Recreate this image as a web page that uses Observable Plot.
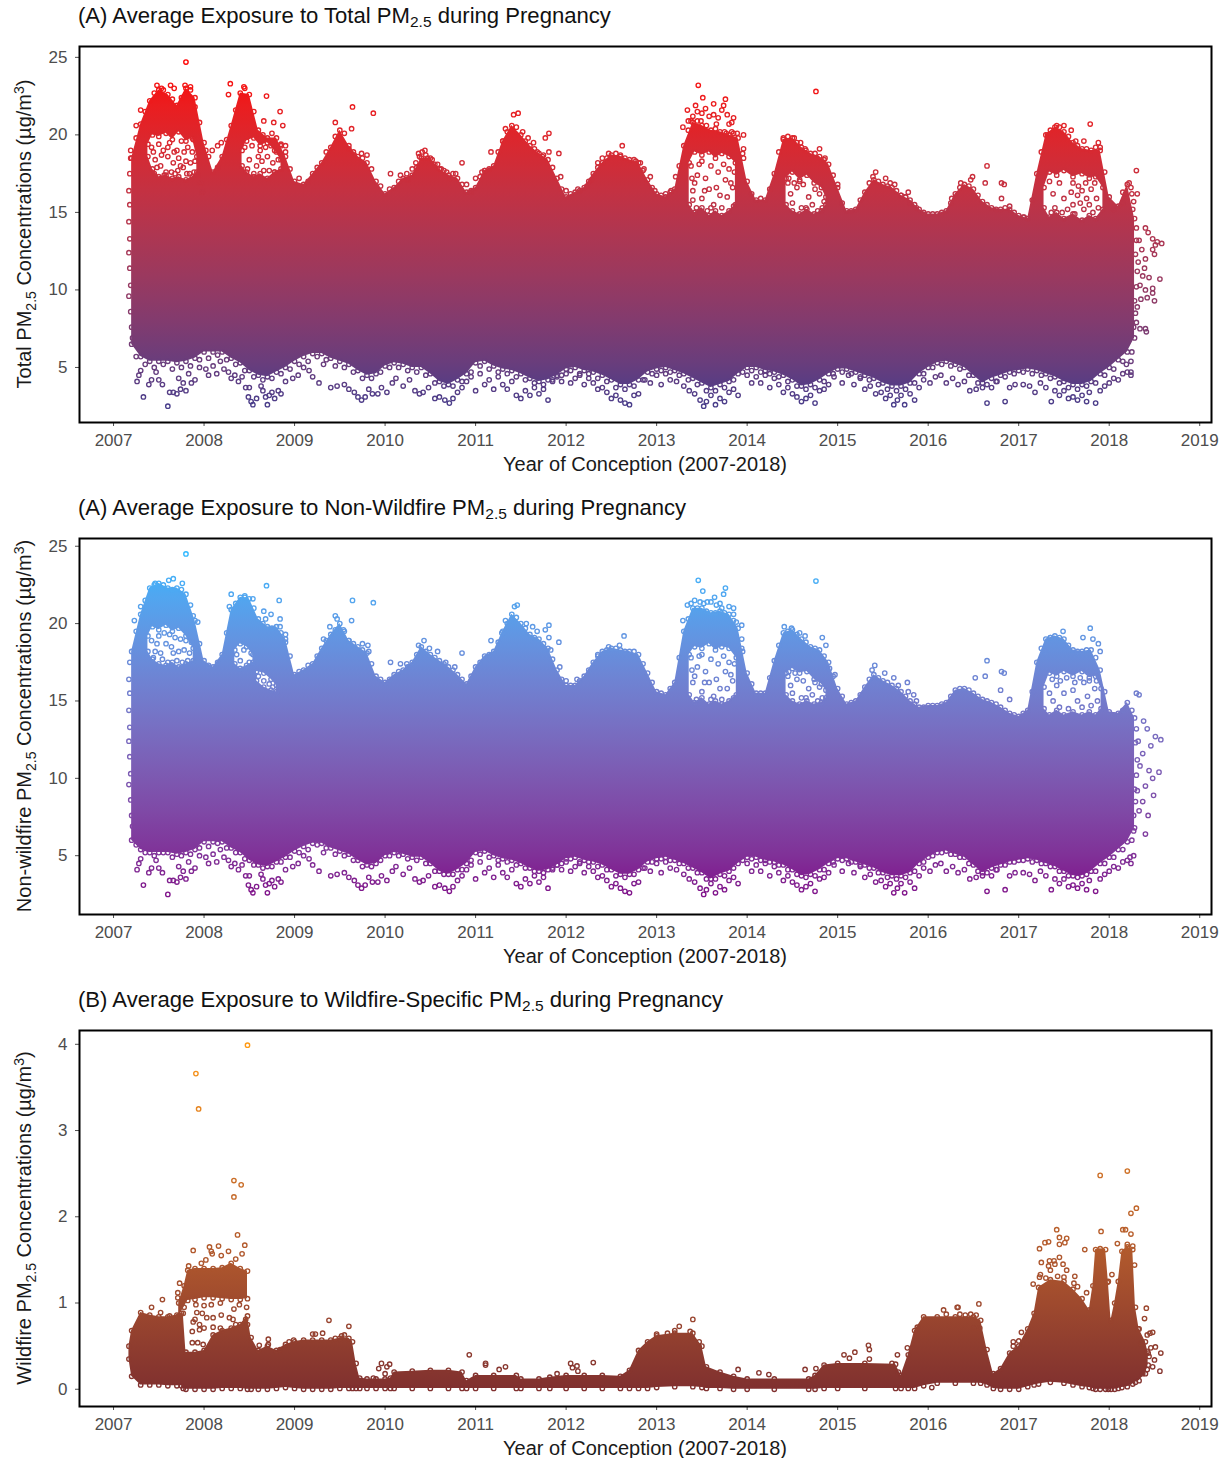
<!DOCTYPE html>
<html><head><meta charset="utf-8">
<script src="https://cdn.jsdelivr.net/npm/d3@7"></script>
<script src="https://cdn.jsdelivr.net/npm/@observablehq/plot@0.6"></script>
<style>
body{margin:0;background:#fff;font-family:"Liberation Sans",Arial,sans-serif;width:1228px}
.t{height:44px;box-sizing:border-box;padding:3px 0 0 78px;font-size:22.1px;color:#111;line-height:26px;white-space:nowrap}
.t sub{font-size:15.5px;line-height:0;vertical-align:-4px}
svg{display:block;overflow:visible}
</style></head><body><div id="root"></div>
<script>
const xTicks=[2007,2008,2009,2010,2011,2012,2013,2014,2015,2016,2017,2018,2019];
const yTicksA=[5,10,15,20,25];
const yTicksC=[0,1,2,3,4];
const xDomain=[2006.624,2019.13];

const yearsAB=[2007.2,2007.3,2007.4,2007.5,2007.6,2007.7,2007.8,2007.9,
2008,2008.1,2008.2,2008.3,2008.4,2008.5,2008.6,2008.7,2008.8,2008.9,
2009,2009.1,2009.2,2009.3,2009.4,2009.5,2009.6,2009.7,2009.8,2009.9,
2010,2010.1,2010.2,2010.3,2010.4,2010.5,2010.6,2010.7,2010.8,2010.9,
2011,2011.1,2011.2,2011.3,2011.4,2011.5,2011.6,2011.7,2011.8,2011.9,
2012,2012.1,2012.2,2012.3,2012.4,2012.5,2012.6,2012.7,2012.8,2012.9,
2013,2013.1,2013.2,2013.3,2013.4,2013.5,2013.6,2013.7,2013.8,2013.9,
2014,2014.1,2014.2,2014.3,2014.4,2014.5,2014.6,2014.7,2014.8,2014.9,
2015,2015.1,2015.2,2015.3,2015.4,2015.5,2015.6,2015.7,2015.8,2015.9,
2016,2016.1,2016.2,2016.3,2016.4,2016.5,2016.6,2016.7,2016.8,2016.9,
2017,2017.1,2017.2,2017.3,2017.4,2017.5,2017.6,2017.7,2017.8,2017.9,
2018,2018.1,2018.2,2018.28];

const totalHi=[18.5,20.7,22.2,22.9,22.6,21.9,23.0,22.4,
19.5,17.6,18.6,20.6,22.7,22.6,20.3,19.8,19.8,18.6,
17.0,16.8,17.5,18.2,19.2,20.3,19.3,18.6,18.2,17.0,
16.2,16.6,17.2,17.4,18.5,18.5,17.8,17.4,17.2,16.3,
16.6,17.7,18.0,19.6,20.6,20.0,19.3,18.8,18.4,17.2,
16.0,16.3,16.6,17.5,18.2,18.7,18.6,18.4,18.2,17.1,
16.2,16.0,16.5,19.3,20.8,20.6,20.3,20.2,20.0,19.8,
17.0,15.8,15.8,17.5,19.7,19.8,19.2,18.8,18.6,18.1,
16.6,15.1,15.2,16.3,17.1,16.8,16.6,16.1,15.8,15.2,
14.9,14.9,15.1,16.2,16.8,16.5,15.7,15.3,15.2,15.2,
14.8,14.6,17.5,20.0,20.5,20.2,19.5,19.1,19.0,19.0,
16.0,15.4,16.8,14.6];
const totalLo=[6.5,5.7,5.4,5.4,5.4,5.3,5.4,5.6,
6.0,6.0,6.0,5.6,5.3,4.8,4.5,4.4,4.7,5.0,
5.4,5.7,5.9,5.9,5.6,5.4,5.2,4.8,4.5,4.6,
5.1,5.3,5.2,5.0,5.0,4.6,4.1,3.9,4.2,4.6,
5.3,5.4,5.1,4.9,4.8,4.6,4.3,4.1,4.2,4.5,
4.9,5.0,4.8,4.7,4.5,4.2,3.9,3.9,4.2,4.7,
4.9,5.0,4.8,4.6,4.3,4.0,3.7,3.9,4.1,4.6,
5.0,5.0,4.8,4.7,4.5,4.2,3.8,3.9,4.2,4.6,
4.9,4.9,4.7,4.5,4.3,4.0,3.8,3.8,4.0,4.6,
5.0,5.3,5.4,5.2,5.0,4.5,4.0,4.3,4.5,4.7,
4.8,4.9,4.8,4.6,4.4,4.1,3.9,3.9,4.1,4.6,
5.0,5.5,6.0,6.9];
const nonHi=[18.2,20.6,22.3,22.6,22.3,22.3,21.9,20.2,
17.6,17.2,18.0,20.9,21.7,21.6,20.3,19.8,19.8,19.0,
16.7,17.0,17.4,18.4,19.3,20.0,18.9,18.5,18.1,16.6,
16.2,16.7,17.0,17.5,18.5,18.0,17.6,17.2,16.7,16.1,
17.2,17.9,18.2,19.5,20.6,20.0,19.3,19.0,18.4,17.0,
16.0,16.0,16.6,17.5,18.2,18.4,18.3,18.2,18.0,16.8,
15.6,15.4,16.2,19.5,21.0,21.0,20.7,20.8,20.6,19.7,
16.8,15.5,15.5,17.6,19.4,19.6,19.0,18.5,18.3,17.5,
15.8,14.8,15.0,15.9,16.7,16.3,16.0,15.6,15.0,14.6,
14.7,14.7,14.9,15.7,15.8,15.5,15.1,14.9,14.6,14.2,
14.0,14.4,17.5,19.0,19.2,19.0,18.3,18.2,18.3,17.0,
14.3,14.2,14.9,13.9];
const nonLo=[6.0,5.4,5.2,5.2,5.2,5.1,5.2,5.4,
5.9,5.9,5.9,5.5,5.2,4.7,4.4,4.3,4.6,4.9,
5.3,5.6,5.8,5.8,5.5,5.3,5.1,4.7,4.4,4.5,
5.0,5.2,5.1,4.9,4.9,4.5,4.0,3.8,4.1,4.5,
5.2,5.3,5.0,4.8,4.7,4.5,4.2,4.0,4.1,4.4,
4.8,4.9,4.7,4.6,4.4,4.1,3.8,3.8,4.1,4.6,
4.8,4.9,4.7,4.5,4.2,3.9,3.5,3.8,4.0,4.5,
4.9,4.9,4.7,4.6,4.4,4.1,3.7,3.8,4.1,4.5,
4.8,4.8,4.6,4.4,4.2,3.9,3.7,3.7,3.9,4.5,
4.9,5.2,5.3,5.1,4.9,4.4,3.9,4.2,4.4,4.6,
4.7,4.8,4.7,4.5,4.3,4.0,3.7,3.7,4.0,4.5,
4.9,5.4,5.9,6.8];

// gaps in the dense cloud: [year, lower edge, upper edge]
const totalGaps=[
[[2007.38,18.6,19.4],[2007.43,17.8,20.0],[2007.5,17.3,19.9],[2007.58,17.4,20.1],[2007.65,17.2,19.7],[2007.72,17.3,20.2],[2007.8,17.1,19.6],[2007.87,17.3,19.8],[2007.92,17.6,18.6]],
[[2008.42,18.0,19.0],[2008.47,17.6,19.6],[2008.55,17.3,19.8],[2008.62,17.5,19.3],[2008.7,17.2,19.5],[2008.78,17.6,19.0],[2008.85,17.8,18.4]],
[[2013.36,15.5,18.2],[2013.42,15.0,18.9],[2013.5,15.3,18.7],[2013.58,14.8,18.9],[2013.65,15.1,18.5],[2013.72,14.8,18.8],[2013.8,15.1,18.6],[2013.87,15.5,18.2]],
[[2014.43,15.5,17.2],[2014.5,15.1,17.6],[2014.58,14.9,17.1],[2014.66,15.2,17.4],[2014.74,14.9,16.9],[2014.82,15.1,16.6],[2014.87,15.5,16.0]],
[[2017.28,15.3,16.6],[2017.34,14.7,17.6],[2017.42,15.0,17.4],[2017.5,14.6,17.7],[2017.6,14.9,17.3],[2017.7,14.5,17.5],[2017.78,14.8,17.2],[2017.85,14.6,17.3],[2017.93,15.2,16.6]]];
const nonGaps=[
[[2007.38,18.2,19.2],[2007.43,17.7,19.8],[2007.5,17.4,19.6],[2007.58,17.3,19.9],[2007.65,17.5,19.5],[2007.72,17.2,19.7],[2007.8,17.4,19.2],[2007.88,17.6,18.4]],
[[2008.34,17.4,18.3],[2008.4,17.1,18.7],[2008.47,17.3,18.5],[2008.54,17.5,18.0]],
[[2008.58,16.3,16.9],[2008.66,15.9,16.8],[2008.74,15.7,16.4],[2008.8,15.6,16.0]],
[[2013.36,15.4,18.0],[2013.42,14.9,18.5],[2013.5,15.2,18.4],[2013.58,14.8,18.7],[2013.65,15.0,18.3],[2013.72,14.8,18.5],[2013.8,15.0,18.4],[2013.88,15.4,17.8]],
[[2014.43,15.4,16.8],[2014.5,15.0,17.1],[2014.58,14.8,16.8],[2014.66,15.0,16.9],[2014.74,14.8,16.4],[2014.82,14.9,16.1],[2014.87,15.2,15.7]],
[[2017.28,14.5,15.9],[2017.34,14.1,16.8],[2017.42,14.4,16.6],[2017.5,14.1,16.9],[2017.6,14.3,16.6],[2017.7,14.1,16.9],[2017.78,14.3,16.5],[2017.85,14.1,16.6],[2017.91,14.5,15.8]]];

// points along the ragged left and right sides of the cloud
const sideDots=[[2007.18,17.5],[2007.17,16.4],[2007.18,15.5],[2007.17,14.4],[2007.18,13.3],[2007.17,12.4],[2007.18,11.4],[2007.19,10.3],[2007.17,9.6],[2007.19,8.6],[2007.2,7.6],[2007.21,6.9],[2018.3,13.2],[2018.29,12.3],[2018.31,11.2],[2018.3,10.2],[2018.28,9.3],[2018.29,8.5],[2018.27,7.6]];

// points hugging the upper silhouette
const totalFringe=[[2007.25,19.8],[2007.35,21.5],[2007.45,22.7],[2007.55,22.9],[2007.65,22.3],[2007.75,22.4],[2007.85,22.9],[2007.95,20.8],[2008.05,18.6],[2008.15,17.9],[2008.25,19.7],[2008.35,21.6],[2008.45,23],[2008.55,21.5],[2008.65,20.0],[2008.75,20.1],[2008.85,19.4],[2008.95,17.8],[2009.05,17.2],[2009.15,17.0],[2009.25,17.9],[2009.35,18.9],[2009.45,19.9],[2009.55,20.1],[2009.65,18.9],[2009.75,18.5],[2009.85,17.8],[2009.95,16.7],[2010.05,16.5],[2010.15,17.0],[2010.25,17.1],[2010.35,17.9],[2010.45,18.7],[2010.55,18.1],[2010.65,17.7],[2010.75,17.5],[2010.85,16.8],[2010.95,16.4],[2011.05,17.3],[2011.15,17.8],[2011.25,18.9],[2011.35,20.2],[2011.45,20.5],[2011.55,19.6],[2011.65,19.1],[2011.75,18.7],[2011.85,17.9],[2011.95,16.5],[2012.05,16.2],[2012.15,16.4],[2012.25,17.0],[2012.35,17.9],[2012.45,18.5],[2012.55,18.8],[2012.65,18.5],[2012.75,18.4],[2012.85,17.7],[2012.95,16.6],[2013.05,16.1],[2013.15,16.3],[2013.25,18.0],[2013.35,20.3],[2013.45,20.9],[2013.55,20.6],[2013.65,20.4],[2013.75,20.2],[2013.85,20.1],[2013.95,18.8],[2014.05,16.2],[2014.15,15.9],[2014.25,16.5],[2014.35,18.9],[2014.45,19.9],[2014.55,19.5],[2014.65,19.0],[2014.75,18.8],[2014.85,18.4],[2014.95,17.4],[2015.05,15.6],[2015.15,15.1],[2015.25,15.8],[2015.35,16.9],[2015.45,17.0],[2015.55,16.7],[2015.65,16.4],[2015.75,16.0],[2015.85,15.5],[2015.95,15.0],[2016.05,14.9],[2016.15,15.0],[2016.25,15.6],[2016.35,16.6],[2016.45,16.7],[2016.55,16.1],[2016.65,15.5],[2016.75,15.2],[2016.85,15.3],[2016.95,15.0],[2017.05,14.7],[2017.15,15.8],[2017.25,18.9],[2017.35,20.3],[2017.45,20.5],[2017.55,19.9],[2017.65,19.3],[2017.75,19.1],[2017.85,19.2],[2017.95,17.6],[2018.05,15.2],[2018.15,15.6],[2018.25,16.2]];
const nonFringe=[[2007.25,19.5],[2007.35,21.5],[2007.45,22.5],[2007.55,22.5],[2007.65,22.2],[2007.75,22.2],[2007.85,21.2],[2007.95,18.7],[2008.05,17.3],[2008.15,17.5],[2008.25,19.4],[2008.35,21.3],[2008.45,21.8],[2008.55,21.0],[2008.65,20.0],[2008.75,19.7],[2008.85,19.4],[2008.95,17.9],[2009.05,16.9],[2009.15,17.3],[2009.25,17.9],[2009.35,18.9],[2009.45,19.6],[2009.55,19.5],[2009.65,18.7],[2009.75,18.3],[2009.85,17.4],[2009.95,16.4],[2010.05,16.4],[2010.15,16.9],[2010.25,17.2],[2010.35,18.0],[2010.45,18.2],[2010.55,17.8],[2010.65,17.4],[2010.75,17.0],[2010.85,16.4],[2010.95,16.6],[2011.05,17.5],[2011.15,18.0],[2011.25,18.8],[2011.35,20.0],[2011.45,20.4],[2011.55,19.7],[2011.65,19.1],[2011.75,18.7],[2011.85,17.7],[2011.95,16.4],[2012.05,16.0],[2012.15,16.3],[2012.25,17.0],[2012.35,17.9],[2012.45,18.3],[2012.55,18.4],[2012.65,18.2],[2012.75,18.2],[2012.85,17.4],[2012.95,16.2],[2013.05,15.5],[2013.15,15.8],[2013.25,17.8],[2013.35,20.3],[2013.45,21.0],[2013.55,20.8],[2013.65,20.7],[2013.75,20.7],[2013.85,20.2],[2013.95,18.2],[2014.05,16.1],[2014.15,15.5],[2014.25,16.5],[2014.35,18.6],[2014.45,19.5],[2014.55,19.3],[2014.65,18.8],[2014.75,18.4],[2014.85,17.9],[2014.95,16.6],[2015.05,15.3],[2015.15,14.9],[2015.25,15.4],[2015.35,16.4],[2015.45,16.5],[2015.55,16.2],[2015.65,15.8],[2015.75,15.3],[2015.85,14.8],[2015.95,14.6],[2016.05,14.7],[2016.15,14.8],[2016.25,15.3],[2016.35,15.8],[2016.45,15.7],[2016.55,15.3],[2016.65,15.0],[2016.75,14.8],[2016.85,14.4],[2016.95,14.1],[2017.05,14.2],[2017.15,15.6],[2017.25,18.4],[2017.35,19.1],[2017.45,19.1],[2017.55,18.6],[2017.65,18.2],[2017.75,18.3],[2017.85,17.8],[2017.95,15.6],[2018.05,14.1],[2018.15,14.4],[2018.25,14.4]];
// points hugging the lower silhouette
const floorFringe=[[2007.25,5.7],[2007.35,5.2],[2007.45,5.0],[2007.55,5.2],[2007.65,4.9],[2007.75,5.0],[2007.85,5.1],[2007.95,5.5],[2008.05,5.6],[2008.15,5.8],[2008.25,5.5],[2008.35,5.2],[2008.45,4.8],[2008.55,4.4],[2008.65,4.2],[2008.75,4.3],[2008.85,4.6],[2008.95,4.9],[2009.05,5.2],[2009.15,5.4],[2009.25,5.7],[2009.35,5.5],[2009.45,5.1],[2009.55,5.0],[2009.65,4.7],[2009.75,4.3],[2009.85,4.3],[2009.95,4.7],[2010.05,5.0],[2010.15,5.0],[2010.25,4.8],[2010.35,4.7],[2010.45,4.5],[2010.55,4.0],[2010.65,3.8],[2010.75,3.8],[2010.85,4.1],[2010.95,4.7],[2011.05,5.1],[2011.15,4.9],[2011.25,4.7],[2011.35,4.6],[2011.45,4.4],[2011.55,4.2],[2011.65,4.0],[2011.75,3.9],[2011.85,4.1],[2011.95,4.5],[2012.05,4.8],[2012.15,4.6],[2012.25,4.6],[2012.35,4.3],[2012.45,4.1],[2012.55,3.7],[2012.65,3.6],[2012.75,3.8],[2012.85,4.2],[2012.95,4.6],[2013.05,4.8],[2013.15,4.7],[2013.25,4.5],[2013.35,4.2],[2013.45,3.9],[2013.55,3.5],[2013.65,3.5],[2013.75,3.7],[2013.85,4.2],[2013.95,4.7],[2014.05,4.8],[2014.15,4.7],[2014.25,4.6],[2014.35,4.4],[2014.45,4.1],[2014.55,3.8],[2014.65,3.6],[2014.75,3.7],[2014.85,4.1],[2014.95,4.6],[2015.05,4.7],[2015.15,4.6],[2015.25,4.4],[2015.35,4.2],[2015.45,3.9],[2015.55,3.6],[2015.65,3.5],[2015.75,3.6],[2015.85,4.0],[2015.95,4.6],[2016.05,5.0],[2016.15,5.2],[2016.25,5.1],[2016.35,4.9],[2016.45,4.5],[2016.55,4.0],[2016.65,3.9],[2016.75,4.1],[2016.85,4.4],[2016.95,4.6],[2017.05,4.7],[2017.15,4.6],[2017.25,4.5],[2017.35,4.3],[2017.45,4.0],[2017.55,3.7],[2017.65,3.6],[2017.75,3.8],[2017.85,4.0],[2017.95,4.5],[2018.05,4.9],[2018.15,5.4],[2018.25,6.0]];

// lower fringe of separate points (very nearly the same in the total and non-wildfire panels)
const floorDots=[[2007.28,4.5],[2007.33,3.1],[2007.26,4.1],[2007.3,4.8],[2007.39,3.9],[2007.42,4.2],[2007.47,4.7],[2007.5,4.2],[2007.54,3.9],[2007.6,2.5],[2007.62,3.4],[2007.66,3.4],[2007.7,3.3],[2007.72,4.3],[2007.74,3.6],[2007.77,4.0],[2007.8,3.5],[2007.83,4.6],[2007.86,4.0],[2007.9,4.2],[2007.95,5.0],[2008.02,4.9],[2008.05,4.5],[2008.1,5.1],[2008.14,4.6],[2008.18,5.4],[2008.22,4.9],[2008.27,4.7],[2008.3,4.3],[2008.34,4.5],[2008.38,4.1],[2008.42,4.4],[2008.46,3.7],[2008.49,3.1],[2008.5,3.7],[2008.52,2.8],[2008.54,2.6],[2008.58,3.0],[2008.63,3.8],[2008.65,3.5],[2008.68,3.1],[2008.7,2.6],[2008.72,3.2],[2008.75,3.4],[2008.78,3.0],[2008.82,3.5],[2008.85,3.3],[2008.9,4.1],[2008.98,4.3],[2009.04,4.5],[2009.1,5.0],[2009.16,4.8],[2009.2,4.4],[2009.27,4.0],[2009.32,5.2],[2009.4,3.7],[2009.47,3.8],[2009.55,3.9],[2009.6,3.6],[2009.66,3.4],[2009.7,3.1],[2009.74,2.9],[2009.78,3.1],[2009.82,3.6],[2009.86,3.3],[2009.92,3.3],[2009.96,3.7],[2010.02,3.4],[2010.08,4.0],
[2010.12,4.3],[2010.2,3.8],[2010.27,4.2],[2010.33,3.5],[2010.38,3.3],[2010.42,3.4],[2010.48,3.7],[2010.55,3.0],[2010.6,3.1],[2010.66,2.9],[2010.71,2.7],[2010.75,3.0],[2010.8,3.4],[2010.85,3.7],[2010.9,4.1],[2010.95,4.4],[2011,3.5],[2011.05,4.6],[2011.1,3.9],[2011.15,4.2],[2011.2,3.6],[2011.25,4.4],[2011.3,3.9],[2011.35,3.6],[2011.4,4.1],[2011.45,3.2],[2011.5,3.0],[2011.55,3.5],[2011.6,3.2],[2011.65,3.7],[2011.7,3.3],[2011.75,3.6],[2011.8,2.9],[2011.85,4.2],[2011.9,4.4],[2011.95,4.1],
[2012,4.6],[2012.05,4.0],[2012.1,4.3],[2012.15,4.5],[2012.2,3.9],[2012.25,4.3],[2012.3,4.0],[2012.35,3.6],[2012.4,3.7],[2012.45,3.4],[2012.5,3.0],[2012.55,3.2],[2012.6,2.9],[2012.65,2.7],[2012.7,2.6],[2012.75,3.2],[2012.8,3.3],[2012.87,4.2],[2012.93,4.0],[2013,4.5],[2013.05,3.9],[2013.1,4.6],[2013.15,4.2],[2013.22,4.1],[2013.3,3.8],[2013.36,3.5],[2013.42,3.3],[2013.48,2.9],[2013.52,2.5],[2013.55,2.8],[2013.6,3.2],[2013.65,2.6],[2013.7,3.0],[2013.75,2.8],[2013.8,3.4],[2013.85,3.6],[2013.9,3.2],
[2014,4.5],[2014.05,4.0],[2014.1,4.4],[2014.15,4.0],[2014.2,4.5],[2014.25,3.7],[2014.3,4.3],[2014.35,3.9],[2014.4,3.4],[2014.45,3.7],[2014.5,3.3],[2014.55,3.1],[2014.6,2.8],[2014.65,3.0],[2014.7,3.2],[2014.75,2.7],[2014.8,3.5],[2014.85,3.6],[2014.9,3.9],[2014.96,4.4],[2015.05,4.0],[2015.12,4.5],[2015.18,3.9],[2015.25,4.3],[2015.3,3.6],[2015.36,3.8],[2015.42,3.3],[2015.48,3.4],[2015.53,3.0],[2015.58,3.2],[2015.62,2.6],[2015.66,2.9],[2015.7,3.2],[2015.74,2.6],[2015.8,3.3],[2015.85,2.9],[2015.9,3.7],[2015.95,4.2],
[2016.02,4.0],[2016.08,4.4],[2016.14,4.5],[2016.2,4.0],[2016.27,4.3],[2016.33,3.9],[2016.4,4.1],[2016.46,3.5],[2016.53,3.6],[2016.6,3.7],[2016.65,2.7],[2016.7,3.7],[2016.76,4.1],[2016.85,2.8],[2016.9,3.7],[2016.96,3.9],[2017.05,3.9],[2017.12,3.8],[2017.18,3.4],[2017.24,4.0],[2017.3,3.7],[2017.36,2.8],[2017.4,3.5],[2017.45,3.2],[2017.5,3.5],[2017.55,3.0],[2017.6,3.1],[2017.65,2.9],[2017.7,3.2],[2017.75,2.8],[2017.78,3.4],[2017.85,2.7],[2017.9,3.5],[2017.95,3.8],[2018,4.0],[2018.05,4.3],[2018.1,4.2],[2018.15,4.6],[2018.2,4.7],[2018.24,4.5]];

const totalDots=[[2007.8,24.7],[2008.69,22.5],[2008.84,21.5],[2009.64,21.8],[2009.63,20.4],[2009.87,21.4],[2009.45,20.8],[2009.6,19.1],[2009.66,18.7],[2009.8,18.7],[2009.74,18.8],[2010.06,17.5],[2010.17,17.4],[2010.24,17.5],[2010.37,18.8],[2008.66,20.9],[2008.77,20.8],[2008.87,20.6],[2008.9,19.3],[2008.9,18.9],[2008.09,19],[2008.15,19.3],[2008.19,19.5],[2008.02,19],[2008.29,23.3],[2008.44,23.1],[2008.27,22.6],[2007.19,19],[2007.19,18.5],[2007.25,20.6],[2007.3,21.6],[2007.48,23.2],[2007.63,23.2],[2007.67,23],[2007.53,23],[2007.79,23.2],[2007.85,23.1],[2007.9,21.8],
[2007.42,19.2],[2007.46,18.4],[2007.5,19.4],[2007.52,18.0],[2007.55,19.0],[2007.58,17.6],[2007.6,18.6],[2007.62,19.5],[2007.66,18.2],[2007.68,17.5],[2007.7,19.0],[2007.72,18.5],[2007.75,19.6],[2007.77,17.9],[2007.8,18.3],[2007.82,19.2],[2007.84,17.5],[2007.87,18.9],[2007.88,19.7],[2007.9,18.3],[2007.45,17.5],[2007.93,17.4],[2007.96,16.9],[2007.98,16.3],[2007.44,18.9],[2007.48,17.9],[2007.53,18.7],[2007.56,17.4],[2007.6,19.2],[2007.64,17.6],[2007.67,18.9],[2007.71,17.7],[2007.74,18.0],[2007.78,18.9],[2007.81,17.5],[2007.85,18.2],[2007.89,17.6],
[2008.45,19.2],[2008.5,18.4],[2008.53,19.3],[2008.58,18.0],[2008.62,19.0],[2008.66,17.7],[2008.7,18.6],[2008.74,19.3],[2008.78,17.6],[2008.82,18.4],[2008.85,19.3],[2008.48,17.8],[2008.55,17.5],[2008.6,18.6],[2008.64,18.3],[2008.68,19.2],[2008.72,17.7],[2008.76,18.2],[2008.8,18.9],
[2010.3,17.8],[2010.34,18.2],[2010.38,18.6],[2010.41,18.9],[2010.44,19.0],[2010.47,18.5],[2010.52,18.4],[2010.58,18.1],[2010.62,17.8],[2010.68,17.6],[2010.72,17.2],[2010.78,17.5],[2010.85,18.2],[2010.9,16.8],[2010.95,16.3],[2011,17.2],[2011.07,17.6],[2011.17,18.9],[2011.1,17.7],[2011.33,20.4],[2011.3,19.6],[2011.42,21.3],[2011.47,21.4],[2011.52,20.2],[2011.58,19.8],[2011.64,19.5],[2011.77,19.8],[2011.81,20.1],[2011.81,18.9],[2011.92,18.8],[2011.68,18.9],[2011.74,18.6],[2011.94,17.3],[2012,16.4],[2012.13,16.5],[2012.23,16.7],[2012.28,17.1],[2012.35,18.2],[2012.4,18.5],[2012.47,18.8],[2012.6,18.7],[2012.62,19.3],[2012.77,18.3],[2012.82,18.2],[2012.86,17.8],[2012.93,17.3],[2012.98,16.4],[2013.1,16.2],[2013.16,16.4],[2013.21,17.3],
[2013.29,20.5],[2013.34,21.6],[2013.43,21.9],[2013.46,23.2],[2013.51,22.4],[2013.63,22.0],[2013.74,21.9],[2013.76,22.3],[2013.85,21.1],[2013.83,20.8],[2013.96,20],[2013.78,21.3],[2013.72,21.6],[2013.63,21.3],[2013.54,21.7],[2013.5,21.4],[2013.38,20.9],[2013.66,20.7],[2013.49,20.9],[2013.77,20.1],[2013.89,20.1],[2013.83,20.2],[2013.96,19.1],[2013.96,18.5],[2013.4,21.2],[2013.45,21.5],[2013.58,21.2],[2013.68,21.1],[2013.8,20.7],[2013.35,20.9],
[2013.38,18.0],[2013.42,16.9],[2013.45,17.4],[2013.5,15.9],[2013.5,18.3],[2013.54,17.2],[2013.58,16.5],[2013.6,18.0],[2013.63,15.5],[2013.66,16.6],[2013.68,17.6],[2013.7,16.1],[2013.72,15.3],[2013.76,17.1],[2013.78,16.0],[2013.8,17.8],[2013.84,16.6],[2013.85,15.4],[2013.4,15.8],[2013.44,15.3],[2013.56,15.1],[2013.39,17.2],[2013.47,18.1],[2013.53,16.4],[2013.6,15.3],[2013.74,18.1],[2013.82,16.9],[2013.86,17.6],[2013.4,16.4],
[2014.4,19.8],[2014.52,19.8],[2014.59,19.5],[2014.64,19.1],[2014.8,19.1],[2014.86,18.5],[2015,16.8],[2014.76,22.8],
[2014.45,16.9],[2014.48,16.2],[2014.5,15.6],[2014.55,16.6],[2014.6,15.3],[2014.62,16.8],[2014.68,16.0],[2014.72,15.5],[2014.78,15.1],[2014.8,16.2],[2014.85,15.7],[2014.46,17.2],[2014.52,16.9],[2014.58,17.0],[2014.65,15.3],[2014.75,16.5],[2014.83,15.3],
[2015.42,17.6],[2015.39,17.3],[2015.53,17.2],[2015.58,16.9],[2015.63,16.8],[2015.78,16.3],[2015.7,16.1],[2015.75,16],[2015.8,15.6],[2015.87,15.3],[2016.36,16.9],[2016.47,17.1],[2016.49,17.3],[2016.65,18],[2016.63,16.9],[2016.81,16.9],[2016.84,16.8],[2016.81,15.9],[2016.9,15.4],[2017.06,14.7],[2016.26,15.9],
[2017.32,20],[2017.42,20.6],[2017.5,20.6],[2017.58,20.3],[2017.63,19.6],[2017.72,19.6],[2017.79,20.7],[2017.88,19.5],[2017.9,19.2],
[2017.34,17.0],[2017.38,16.2],[2017.4,15.3],[2017.45,16.9],[2017.5,15.9],[2017.54,15.2],[2017.58,16.3],[2017.6,15.5],[2017.62,14.9],[2017.65,16.1],[2017.68,15.6],[2017.7,16.4],[2017.72,15.2],[2017.75,15.9],[2017.78,15.5],[2017.8,16.5],[2017.82,15.0],[2017.86,15.9],[2017.88,15.3],[2017.6,16.9],[2017.66,16.7],[2017.74,16.9],[2017.84,16.9],[2017.48,15.0],[2017.36,15.0],
[2018.3,17.7],[2018.24,16.6],[2018.31,16.2],[2018.18,16.2],[2018.3,14.0],[2018.4,14],[2018.43,13.7],[2018.48,13.3],[2018.53,13.1],[2018.58,13],[2018.51,12.9],[2018.48,12.6],[2018.5,12.3],[2018.4,12],[2018.44,10.8],[2018.39,11.4],[2018.37,10.9],[2018.56,10.7],[2018.4,10],[2018.48,10.1],[2018.48,9.8],[2018.42,9.5],[2018.35,9.4],[2018.5,9.3],[2018.4,7.5],[2018.41,7.3],[2018.34,7.5],[2018.3,7.9],[2018.24,4.7],[2018.24,5.4],[2018.19,5.2],[2018.33,13.2],[2018.36,12.6],[2018.32,11.8],[2018.34,10.3],[2018.31,8.9],[2018.27,15.7],[2018.22,16.9],[2018.26,15.2],[2018.15,16.3]];

const nonDots=[[2007.8,24.5],[2008.69,22.45],[2008.83,21.5],[2009.64,21.5],[2009.87,21.35],[2009.63,20.2],[2007.61,22.8],[2007.66,22.9],[2007.76,22.6],[2007.46,22.6],[2007.23,20.2],[2007.3,21.1],[2007.93,20.1],[2007.88,20.5],[2008.3,21.9],[2008.28,21.1],[2008.45,21.7],[2008.54,21.6],[2008.66,20.8],[2008.68,20.3],[2008.74,20.6],[2008.84,20.3],[2008.84,19.8],[2008.9,19.3],[2008.9,18.8],
[2009.45,20.5],[2009.47,20.3],[2009.39,19.8],[2009.32,19],[2009.54,19.6],[2009.6,18.9],[2009.75,18.7],[2009.81,18.6],[2009.82,18.2],[2010.06,17.5],[2010.17,17.4],[2010.24,17.4],[2010.43,18.9],[2010.37,18.6],[2010.49,18.4],[2010.58,18.2],[2010.85,18.1],[2010.67,17.5],[2010.77,17.2],[2011.17,18.9],[2011.46,21.2],[2011.43,21.1],[2011.33,20.2],[2011.29,19.4],[2011.56,20],[2011.63,19.8],[2011.68,19.5],[2011.81,19.9],[2011.77,19.6],[2011.81,19.1],[2011.92,18.8],[2011.83,18.3],[2011.93,17.2],[2012,16.3],[2012.12,16.4],[2012.35,18],[2012.47,18.5],[2012.59,18.6],[2012.64,19.2],
[2013.46,22.8],[2013.51,22.1],[2013.76,22.3],[2013.74,21.9],[2013.64,21.7],[2013.42,21.5],[2013.34,21.2],[2013.56,21.4],[2013.7,21.3],[2013.85,21],[2013.85,20.6],[2013.29,20.2],[2013.94,19.9],[2013.88,20.1],[2013.94,19],[2013.94,18.4],[2013.38,21.3],[2013.48,21.4],[2013.52,21.3],[2013.6,21.4],[2013.66,21.2],[2013.8,21.1],[2013.72,21.0],
[2014.76,22.75],[2014.41,19.8],[2014.49,19.7],[2014.58,19.4],[2014.64,19.2],[2014.83,19.1],[2014.87,18.6],[2014.91,17.1],[2014.97,16.7],[2015.41,17.3],[2015.38,17],[2015.52,16.8],[2015.62,16.5],[2015.77,16.2],[2015.67,16],[2015.78,15.6],[2015.84,15.4],[2015.87,15],[2016.65,17.6],[2016.63,16.6],[2016.81,16.9],[2016.84,16.8],[2016.8,15.7],[2016.52,16.5],[2016.9,15.1],
[2017.49,19.5],[2017.35,19.1],[2017.79,19.7],[2017.71,19.1],[2017.82,19],[2017.88,18.7],[2017.29,18.2],[2017.9,18.2],
[2007.42,18.9],[2007.46,18.2],[2007.5,19.2],[2007.54,17.7],[2007.58,18.7],[2007.62,19.3],[2007.66,18.1],[2007.7,17.6],[2007.74,19.0],[2007.78,18.3],[2007.82,17.6],[2007.86,18.8],[2007.44,17.8],[2007.48,18.7],[2007.52,18.1],[2007.56,19.4],[2007.6,17.5],[2007.64,18.5],[2007.68,19.1],[2007.72,18.2],[2007.76,17.5],[2007.8,18.9],[2007.84,18.1],
[2008.36,18.0],[2008.4,17.6],[2008.44,18.3],[2008.5,17.5],[2008.52,18.1],[2008.6,16.6],[2008.66,16.3],[2008.72,16.1],[2008.76,15.9],
[2013.38,17.8],[2013.42,16.6],[2013.45,17.2],[2013.5,15.6],[2013.5,18.0],[2013.54,16.9],[2013.58,16.2],[2013.6,17.7],[2013.63,15.3],[2013.66,16.4],[2013.68,17.4],[2013.7,15.8],[2013.72,15.1],[2013.76,16.9],[2013.78,15.8],[2013.8,17.5],[2013.84,16.3],[2013.85,15.2],[2013.44,15.1],[2013.39,17.0],[2013.47,17.9],[2013.53,16.2],[2013.6,15.1],[2013.74,17.9],[2013.82,16.7],[2013.86,17.4],[2013.4,16.2],
[2014.45,16.6],[2014.48,16.0],[2014.5,15.5],[2014.55,16.4],[2014.6,15.2],[2014.62,16.3],[2014.68,15.8],[2014.72,15.4],[2014.78,15.0],[2014.8,15.9],[2014.46,16.9],[2014.53,16.8],[2014.65,15.2],[2014.75,16.2],[2014.83,15.2],
[2017.34,15.5],[2017.38,15.0],[2017.42,16.0],[2017.45,14.6],[2017.5,15.5],[2017.55,14.5],[2017.6,15.7],[2017.65,15.0],[2017.7,14.6],[2017.72,16.2],[2017.76,15.3],[2017.8,14.7],[2017.84,15.8],[2017.87,15.0],[2017.37,16.4],[2017.46,16.3],[2017.53,16.5],[2017.62,16.2],[2017.68,16.5],[2017.78,16.3],[2017.86,16.3],
[2018.3,15.5],[2018.33,15.4],[2018.57,12.5],[2018.51,12.7],[2018.42,13.2],[2018.38,13.7],[2018.46,12.1],[2018.37,11.6],[2018.55,10.4],[2018.44,10.5],[2018.48,10],[2018.4,9.5],[2018.49,8.9],[2018.43,7.6],[2018.4,6.4],[2018.37,8.5],[2018.27,6.6],[2018.32,12.4],[2018.34,10.8],[2018.31,9.2],[2018.33,7.9],[2018.27,5.0],[2018.23,4.9]];

// wildfire panel
const yearsC=[2007.17,2007.2,2007.3,2007.4,2007.5,2007.6,2007.7,2007.75,2007.77,2007.8,
2007.9,2008,2008.1,2008.2,2008.3,2008.4,2008.48,2008.52,2008.6,2008.7,
2008.8,2008.9,2009,2009.1,2009.2,2009.3,2009.4,2009.5,2009.6,2009.64,
2009.68,2009.72,2009.8,2009.9,2010,2010.06,2010.1,2010.3,2010.5,2010.7,
2010.85,2010.9,2011,2011.2,2011.45,2011.5,2011.7,2011.82,2012,2012.2,
2012.4,2012.6,2012.7,2012.8,2012.9,2013,2013.2,2013.4,2013.5,2013.55,
2013.7,2013.85,2014,2014.3,2014.68,2014.75,2014.85,2015,2015.3,2015.64,
2015.7,2015.78,2015.85,2015.95,2016.1,2016.3,2016.5,2016.58,2016.65,2016.72,
2016.8,2016.9,2017,2017.1,2017.17,2017.22,2017.35,2017.5,2017.6,2017.7,
2017.78,2017.82,2017.85,2017.9,2017.96,2017.99,2018.02,2018.06,2018.1,2018.14,
2018.2,2018.26,2018.29,2018.33,2018.4,2018.43];
const wildHi=[0.50,0.68,0.89,0.86,0.84,0.84,0.86,0.88,0.88,0.43,
0.43,0.45,0.63,0.68,0.71,0.75,0.85,0.60,0.45,0.50,
0.45,0.52,0.55,0.57,0.57,0.57,0.57,0.59,0.59,0.55,
0.30,0.13,0.12,0.12,0.12,0.13,0.20,0.21,0.22,0.22,
0.20,0.10,0.16,0.16,0.16,0.12,0.12,0.14,0.16,0.16,
0.16,0.15,0.22,0.45,0.55,0.62,0.65,0.65,0.50,0.26,
0.20,0.15,0.12,0.12,0.12,0.16,0.28,0.30,0.30,0.29,
0.16,0.40,0.68,0.84,0.84,0.84,0.84,0.80,0.46,0.18,
0.24,0.42,0.50,0.70,0.88,1.18,1.27,1.25,1.16,1.05,
0.92,1.20,1.62,1.63,1.62,1.25,0.80,1.00,1.25,1.60,
1.65,1.62,0.95,0.70,0.55,0.42];
const wildLo=[0.35,0.15,0.05,0.05,0.05,0.04,0.04,0.04,0.01,0.0,
0.0,0.0,0.0,0.01,0.01,0.01,0.0,0.0,0.0,0.0,
0.01,0.02,0.01,0.0,0.0,0.0,0.0,0.01,0.01,0.01,
0.01,0.01,0.01,0.01,0.01,0.01,0.01,0.01,0.01,0.01,
0.01,0.01,0.01,0.01,0.01,0.01,0.01,0.01,0.01,0.01,
0.01,0.01,0.01,0.01,0.01,0.02,0.03,0.03,0.02,0.01,
0.01,0.0,0.0,0.0,0.0,0.0,0.01,0.01,0.01,0.01,
0.01,0.01,0.01,0.04,0.07,0.07,0.07,0.07,0.05,0.01,
0.0,0.0,0.0,0.03,0.05,0.06,0.08,0.07,0.05,0.03,
0.02,0.01,0.0,0.0,0.0,0.0,0.0,0.0,0.01,0.02,
0.03,0.06,0.08,0.10,0.18,0.28];
const bandYears=[2007.72,2007.78,2007.82,2007.9,2008,2008.1,2008.2,2008.3,2008.4,2008.48];
const bandHi=[1.0,1.2,1.38,1.4,1.4,1.4,1.41,1.46,1.4,1.37];
const bandLo=[0.85,0.95,1.03,1.04,1.06,1.06,1.05,1.04,1.04,1.05];
const wildDots=[[2008.48,3.99],[2007.91,3.66],[2007.94,3.25],[2008.33,2.42],[2008.41,2.37],[2008.33,2.23],[2008.37,1.79],[2008.45,1.67],[2007.88,1.61],[2008.06,1.65],[2008.16,1.66],[2008.08,1.6],[2008.09,1.57],[2008.19,1.55],[2008.27,1.6],[2008.42,1.57],[2008.02,1.5],[2007.97,1.46],[2007.83,1.43],[2008.35,1.51],[2007.73,1.23],[2007.71,1.12],[2007.71,1.06],[2007.54,1.04],[2007.42,0.95],[2007.52,0.89],[2007.62,0.85],
[2007.91,0.98],[2008,0.97],[2008.08,0.98],[2008.18,1],[2008.39,0.98],[2008.47,0.95],[2008.33,0.93],[2007.98,0.88],[2007.92,0.89],[2008.19,0.86],[2007.9,0.81],[2007.88,0.78],[2007.95,0.75],[2008.03,0.83],[2008.1,0.83],[2008.28,0.83],[2008.32,0.81],[2008.46,0.81],[2008.35,0.75],[2008.48,0.75],[2007.87,0.67],[2007.95,0.69],[2008,0.71],[2008.1,0.72],[2008.18,0.71],[2007.87,0.54],[2007.93,0.54],[2007.99,0.52],
[2008.61,0.51],[2008.71,0.58],[2008.71,0.52],[2008.84,0.46],[2008.94,0.55],[2008.99,0.57],[2009.2,0.64],[2009.23,0.64],[2009.31,0.65],[2009.38,0.8],[2009.6,0.73],[2009.55,0.63],[2009.52,0.62],[2009.45,0.59],[2009.96,0.3],[2009.93,0.24],[2010.05,0.29],[2010.02,0.26],[2010,0.18],[2009.87,0.13],
[2010.93,0.4],[2011.11,0.3],[2011.11,0.28],[2011.33,0.26],[2011.26,0.23],[2012.05,0.3],[2012.3,0.31],[2012.12,0.27],[2012.07,0.25],[2012.13,0.21],[2011.9,0.18],[2013.25,0.73],[2013.4,0.81],[2013.37,0.67],[2013.2,0.68],[2013.39,0.6],[2013.47,0.55],[2013.47,0.49],[2013,0.64],[2013.12,0.65],
[2013.9,0.23],[2014.13,0.19],[2014.24,0.17],[2014.64,0.23],[2014.76,0.24],[2015.07,0.4],[2015.19,0.43],[2015.34,0.51],[2015.35,0.46],[2015.66,0.4],[2015.13,0.36],[2015.35,0.35],[2015.6,0.3],[2015.67,0.2],[2015.77,0.48],[2015.88,0.72],[2016.17,0.92],[2016.32,0.95],[2016.56,0.99],[2016.2,0.87],[2016.35,0.87],[2016.47,0.87],[2016.5,0.71],[2016.04,0.02],
[2016.33,0.95],[2016.53,0.86],[2016.41,0.86],[2016.57,0.71],[2017.03,0.66],[2017,0.56],[2016.94,0.55],[2016.94,0.5],
[2017.9,2.48],[2018.2,2.53],[2018.3,2.1],[2018.24,2.04],[2017.91,1.83],[2018.15,1.85],[2018.18,1.85],[2018.24,1.8],[2017.42,1.85],[2017.45,1.76],[2017.53,1.75],[2017.33,1.71],[2017.29,1.7],[2017.23,1.63],[2017.45,1.68],[2017.51,1.7],[2017.73,1.62],[2018.09,1.69],[2018.2,1.68],[2018.26,1.66],[2017.45,1.53],[2017.25,1.47],[2017.34,1.49],[2017.39,1.49],[2017.49,1.45],[2017.33,1.43],[2017.4,1.45],[2017.53,1.38],[2017.35,1.38],[2017.24,1.33],[2017.23,1.3],[2017.3,1.29],[2017.43,1.31],[2017.5,1.3],[2017.62,1.31],[2017.16,1.22],[2017.61,1.23],[2017.65,1.19],[2017.75,1.12],[2017.98,1.24],[2018.03,1.33],[2018.28,1.44],
[2018.41,0.94],[2018.39,0.82],[2018.48,0.66],[2018.45,0.65],[2018.42,0.63],[2018.32,0.7],[2018.35,0.53],[2018.42,0.44],[2018.51,0.49],[2018.46,0.48],[2018.57,0.42],[2018.56,0.21],[2018.5,0.34],[2018.48,0.26],[2018.42,0.23],[2018.37,0.18],[2018.44,0.38]];

function svgEl(name,attrs){const e=document.createElementNS("http://www.w3.org/2000/svg",name);for(const k in attrs)e.setAttribute(k,attrs[k]);return e;}
function gradientMark(id,top,bottom){
  return (index,scales)=>{
    const defs=svgEl("defs",{});
    const g=svgEl("linearGradient",{id,gradientUnits:"userSpaceOnUse",x1:0,x2:0,y1:scales.y(bottom),y2:scales.y(top)});
    [0,0.125,0.25,0.375,0.5,0.625,0.75,0.875,1].forEach(t=>g.appendChild(svgEl("stop",{offset:t,"stop-color":scales.color(bottom+(top-bottom)*t)})));
    defs.appendChild(g);return defs;
  };
}
function labelMark(parts,rotate){
  return (index,scales,values,dim)=>{
    const midY=(dim.marginTop+dim.height-dim.marginBottom)/2;
    const midX=(dim.marginLeft+dim.width-dim.marginRight)/2;
    const t=svgEl("text",{"text-anchor":"middle","font-size":20,fill:"#1a1a1a",
      transform:rotate?`translate(31,${midY}) rotate(-90)`:`translate(${midX},${dim.height-dim.marginBottom+49})`});
    let shift=0;
    for(const [s,kind] of parts){
      const dy=kind==="sub"?5:kind==="sup"?-7:0;
      const ts=svgEl("tspan",{dy:dy-shift});
      if(kind)ts.setAttribute("font-size",14);
      ts.textContent=s;t.appendChild(ts);shift=dy;
    }
    return t;
  };
}
function pts(a){return a.map(([x,y])=>({x,y}));}
function panel({title,ylabel,yDomain,yTicks,low,high,cDomain,id,areas,gaps,dots,edges}){
  const head=document.createElement("div");head.className="t";head.innerHTML=title;
  const dotOpts={x:"x",y:"y",r:2.2,stroke:"y",fill:"none",strokeWidth:1.35};
  const gapEdges=gaps.flatMap(h=>h.flatMap(d=>[{x:d[0],y:d[1]},{x:d[0],y:d[2]}]));
  const chart=Plot.plot({
    width:1228,height:448,marginTop:2,marginBottom:70,marginLeft:79,marginRight:17,
    style:{fontFamily:'"Liberation Sans",Arial,sans-serif',background:"#fff",overflow:"visible"},
    x:{domain:xDomain,label:null},
    y:{domain:yDomain,label:null},
    color:{type:"linear",domain:cDomain,range:[low,high],interpolate:d3.interpolateLab},
    marks:[
      Plot.dot([{x:xDomain[0],y:yDomain[0]}],{...dotOpts,r:0}),
      gradientMark(id,cDomain[1],cDomain[0]),
      ...areas.map(a=>Plot.areaY(a,{x:"x",y1:"lo",y2:"hi",fill:`url(#${id})`})),
      ...gaps.map(h=>Plot.areaY(h,{x:d=>d[0],y1:d=>d[1],y2:d=>d[2],fill:"#fff"})),
      Plot.dot(edges.concat(gapEdges),dotOpts),
      Plot.dot(dots,dotOpts),
      Plot.axisX(xTicks,{tickSize:4,tickPadding:7,fontSize:17,color:"#4d4d4d",tickFormat:d=>String(d),label:null}),
      Plot.axisY(yTicks,{tickSize:4,tickPadding:8,fontSize:17,color:"#4d4d4d",tickFormat:d=>String(d),label:null}),
      Plot.frame({stroke:"#000",strokeWidth:2}),
      labelMark(ylabel,true),
      labelMark([["Year of Conception (2007-2018)"]],false)
    ]
  });
  const root=document.getElementById("root");root.appendChild(head);root.appendChild(chart);
}
const table=(xs,hi,lo)=>xs.map((x,i)=>({x,hi:hi[i],lo:lo[i]}));
const edgeDots=t=>t.flatMap(d=>[{x:d.x,y:d.hi},{x:d.x,y:d.lo}]);
const totalTable=table(yearsAB,totalHi,totalLo);
const nonTable=table(yearsAB,nonHi,nonLo);
const wildTable=table(yearsC,wildHi,wildLo);
const bandTable=table(bandYears,bandHi,bandLo);

panel({title:"(A) Average Exposure to Total PM<sub>2.5</sub> during Pregnancy",
  ylabel:[["Total PM"],["2.5","sub"],[" Concentrations (µg/m"],["3","sup"],[")"]],
  yDomain:[1.45,25.7],yTicks:yTicksA,low:"#483d8b",high:"#ff0000",cDomain:[2.5,24.7],id:"gTotal",
  areas:[totalTable],gaps:totalGaps,dots:pts(floorDots.concat(sideDots,floorFringe,totalFringe,totalDots)),edges:edgeDots(totalTable)});
panel({title:"(A) Average Exposure to Non-Wildfire PM<sub>2.5</sub> during Pregnancy",
  ylabel:[["Non-wildfire PM"],["2.5","sub"],[" Concentrations (µg/m"],["3","sup"],[")"]],
  yDomain:[1.2,25.5],yTicks:yTicksA,low:"#800f8a",high:"#30b8ff",cDomain:[2.3,24.5],id:"gNon",
  areas:[nonTable],gaps:nonGaps,dots:pts(floorDots.concat(sideDots,floorFringe,nonFringe,nonDots)),edges:edgeDots(nonTable)});
panel({title:"(B) Average Exposure to Wildfire-Specific PM<sub>2.5</sub> during Pregnancy",
  ylabel:[["Wildfire PM"],["2.5","sub"],[" Concentrations (µg/m"],["3","sup"],[")"]],
  yDomain:[-0.2,4.16],yTicks:yTicksC,low:"#80302f",high:"#ff9a14",cDomain:[0,4],id:"gWild",
  areas:[wildTable,bandTable],gaps:[],dots:pts(wildDots),edges:edgeDots(wildTable).concat(edgeDots(bandTable))});
</script></body></html>
